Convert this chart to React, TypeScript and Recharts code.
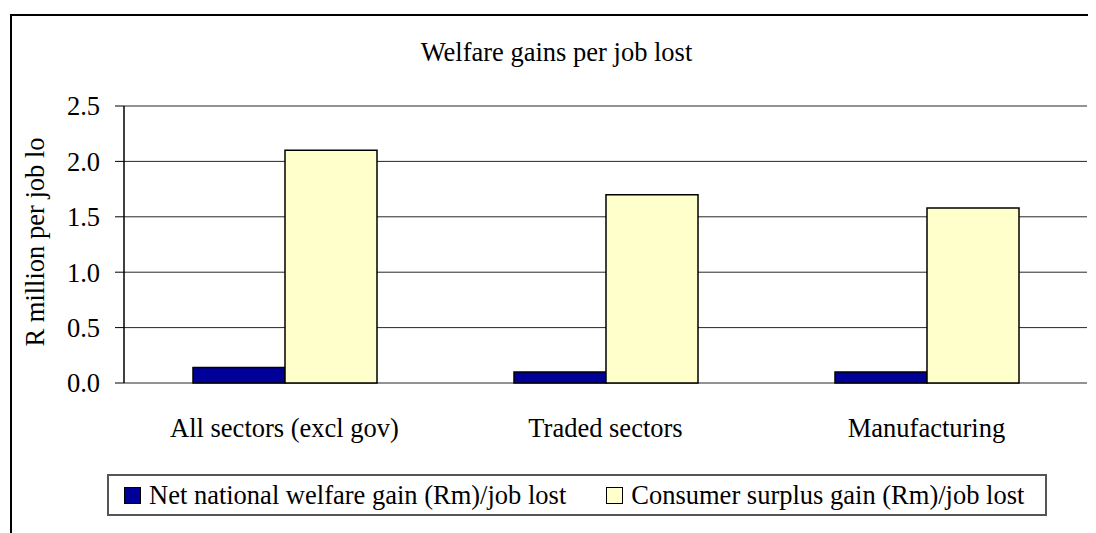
import React from "react";
import { BarChart, Bar, XAxis, YAxis, CartesianGrid, Legend, ReferenceArea } from "recharts";

const categories = ["All sectors (excl gov)", "Traded sectors", "Manufacturing"];
const netWelfare = [0.14, 0.1, 0.1];
const consumerSurplus = [2.1, 1.7, 1.58];
const yTicks = [0, 0.5, 1, 1.5, 2, 2.5];
const boundaryTicks = [0, 1, 2, 3];
const seriesNames = ["Net national welfare gain (Rm)/job lost", "Consumer surplus gain (Rm)/job lost"];
const seriesColors = ["#000099", "#FFFFCC"];

const data = categories.map((name, i) => ({
  name,
  net: netWelfare[i],
  consumer: consumerSurplus[i],
}));

const FONT = '"Liberation Serif", "Times New Roman", serif';
const FS = 26.5;

// Excel-like boxed legend
const renderLegend = () => (
  <div
    style={{
      boxSizing: "border-box",
      width: 940,
      height: 42,
      border: "2px solid #555",
      display: "flex",
      alignItems: "center",
      paddingLeft: 15,
      fontFamily: FONT,
      fontSize: FS,
      color: "#000",
      whiteSpace: "nowrap",
      background: "#fff",
    }}
  >
    {seriesNames.map((n, i) => (
      <div key={n} style={{ display: "flex", alignItems: "center", marginRight: i === 0 ? 40 : 0 }}>
        <span
          style={{
            boxSizing: "border-box",
            display: "inline-block",
            width: 17,
            height: 17,
            background: seriesColors[i],
            border: "1.5px solid #000",
            marginRight: 8,
          }}
        />
        <span>{n}</span>
      </div>
    ))}
  </div>
);

const App = () => {
  return (
    <div style={{ position: "relative", width: 1088, height: 525, overflow: "hidden", background: "#fff" }}>
      <div
        style={{
          position: "absolute",
          left: 2,
          top: 6,
          width: 1200,
          height: 700,
          borderTop: "2px solid #000",
          borderLeft: "2px solid #000",
        }}
      />
      <div style={{ position: "absolute", left: 0, top: 0 }}>
        <BarChart
          width={1088}
          height={525}
          data={data}
          margin={{ top: 98, right: 9, bottom: 75, left: 56 }}
          barGap={0}
          barSize={92}
        >
          <CartesianGrid xAxisId="cat" vertical={false} stroke="#000" strokeOpacity={0.85} />
          <ReferenceArea
            xAxisId="edge"
            x1={0}
            x2={3}
            y1={0}
            y2={2.5}
            fill="none"
            fillOpacity={0}
            stroke="#808080"
            strokeWidth={1.5}
          />
          <XAxis
            xAxisId="edge"
            type="number"
            domain={[0, 3]}
            allowDataOverflow
            ticks={boundaryTicks}
            interval={0}
            tickFormatter={() => ""}
            tickSize={9}
            height={0}
            axisLine={{ stroke: "#000", strokeWidth: 1.5 }}
            tickLine={{ stroke: "#000" }}
          />
          <XAxis
            xAxisId="cat"
            dataKey="name"
            interval={0}
            height={75}
            axisLine={false}
            tickLine={false}
            tickSize={0}
            tickMargin={35}
            tick={{ fill: "#000", fontSize: FS, fontFamily: FONT }}
          />
          <YAxis
            domain={[0, 2.5]}
            ticks={yTicks}
            interval={0}
            width={60}
            tickSize={9}
            tickMargin={15}
            tickFormatter={(v: number) => v.toFixed(1)}
            axisLine={{ stroke: "#000", strokeWidth: 1.5 }}
            tickLine={{ stroke: "#000" }}
            tick={{ fill: "#000", fontSize: FS, fontFamily: FONT }}
          />
          <Legend
            layout="horizontal"
            verticalAlign="middle"
            align="center"
            content={renderLegend}
            wrapperStyle={{ top: 466, left: 99, width: 940, height: 42 }}
          />
          <Bar
            xAxisId="cat"
            dataKey="net"
            name={seriesNames[0]}
            fill={seriesColors[0]}
            stroke="#000"
            strokeWidth={1.5}
            isAnimationActive={false}
          />
          <Bar
            xAxisId="cat"
            dataKey="consumer"
            name={seriesNames[1]}
            fill={seriesColors[1]}
            stroke="#000"
            strokeWidth={1.5}
            isAnimationActive={false}
          />
        </BarChart>
      </div>
      <svg
        width={1088}
        height={525}
        style={{ position: "absolute", left: 0, top: 0, pointerEvents: "none" }}
      >
        <text x={548.5} y={53} textAnchor="middle" fontFamily={FONT} fontSize={FS} fill="#000">
          Welfare gains per job lost
        </text>
        <text
          x={35.5}
          y={234}
          textAnchor="middle"
          fontFamily={FONT}
          fontSize={FS}
          fill="#000"
          transform="rotate(-90 35.5 234)"
        >
          R million per job lo
        </text>
      </svg>
    </div>
  );
};

export default App;
